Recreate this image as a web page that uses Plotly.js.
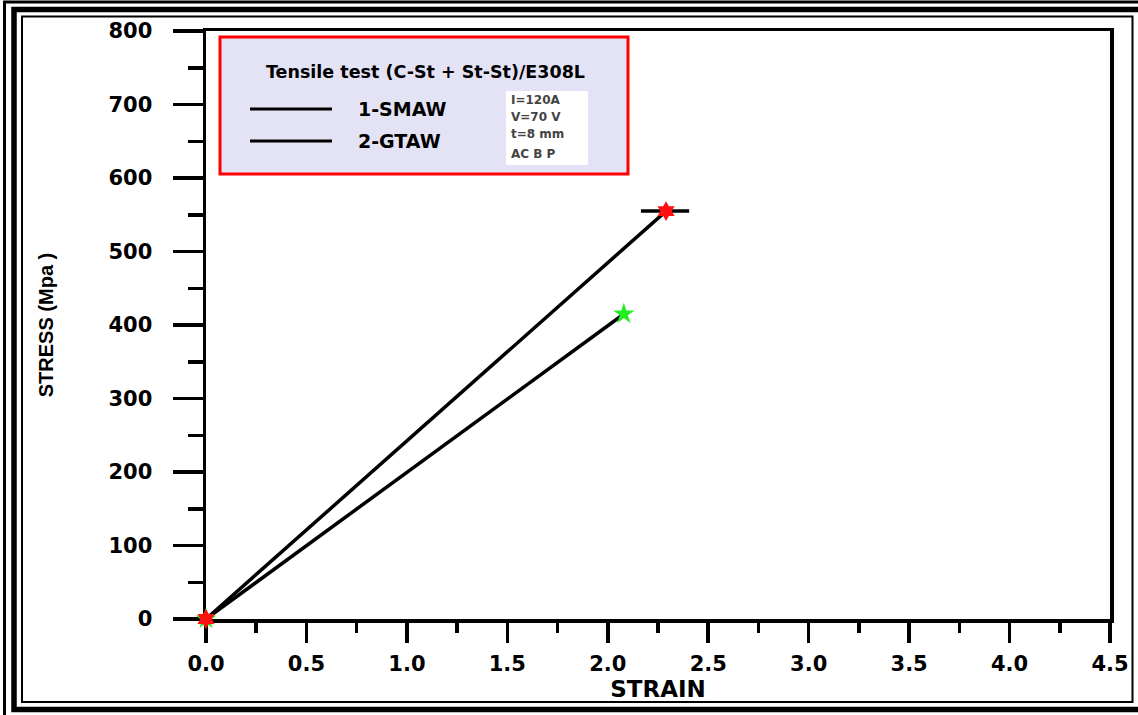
<!DOCTYPE html>
<html>
<head>
<meta charset="utf-8">
<script src="https://cdn.plot.ly/plotly-3.0.1.min.js"></script>
<style>
  html, body { margin: 0; padding: 0; background: #ffffff; }
  #chart { width: 1138px; height: 715px; }
</style>
</head>
<body>
<div id="chart"></div>
<script>
// ---- data ----
const seriesNames = ['1-SMAW', '2-GTAW'];
const smawStrain = [0, 2.29];
const smawStress = [0, 555];
const gtawStrain = [0, 2.08];
const gtawStress = [0, 415];
const smawEndMarkStrain = [2.165, 2.405];
const smawEndMarkStress = [555, 555];
const legendTitle = 'Tensile test (C-St + St-St)/E308L';
const weldParams = ['I=120A', 'V=70 V', 't=8 mm', 'AC B P'];
const xTickVals = [0, 0.5, 1.0, 1.5, 2.0, 2.5, 3.0, 3.5, 4.0, 4.5];
const yTickVals = [0, 100, 200, 300, 400, 500, 600, 700, 800];
const xTitle = 'STRAIN';
const yTitle = 'STRESS (Mpa )';

// ---- layout helpers (pixel -> paper) ----
const W = 1138, H = 715;
const M = { l: 206, r: 28, t: 31, b: 96 };
const PW = W - M.l - M.r, PH = H - M.t - M.b;
const px = v => (v - M.l) / PW;
const py = v => (H - M.b - v) / PH;

const tickFont = { family: 'DejaVu Sans', size: 21, color: '#000', weight: 700 };

const traces = [
  { x: gtawStrain, y: gtawStress, mode: 'lines+markers', name: seriesNames[1],
    line: { color: '#000', width: 3.5 }, cliponaxis: false,
    marker: { symbol: 'star', size: 16, color: '#22ee22', line: { width: 0 } },
    showlegend: false },
  { x: smawEndMarkStrain, y: smawEndMarkStress, mode: 'lines', name: 'end',
    line: { color: '#000', width: 3.5 }, showlegend: false },
  { x: smawStrain, y: smawStress, mode: 'lines+markers', name: seriesNames[0],
    line: { color: '#000', width: 3.5 }, cliponaxis: false,
    marker: { symbol: 'hexagram', size: 15, color: '#ff1010', line: { width: 0 } },
    showlegend: false }
];

const shapes = [
  // page frame (triple border)
  { type: 'rect', xref: 'paper', yref: 'paper', x0: px(4.5), x1: px(1160), y0: py(2), y1: py(730),
    line: { color: '#000', width: 3 }, layer: 'above' },
  { type: 'rect', xref: 'paper', yref: 'paper', x0: px(14), x1: px(1150), y0: py(9.5), y1: py(709.5),
    line: { color: '#000', width: 5.5 }, layer: 'above' },
  { type: 'rect', xref: 'paper', yref: 'paper', x0: px(22), x1: px(1132.5), y0: py(16.5), y1: py(702),
    line: { color: '#000', width: 2 }, layer: 'above' },
  // legend box
  { type: 'rect', xref: 'paper', yref: 'paper', x0: px(220), x1: px(628), y0: py(37), y1: py(174),
    line: { color: '#ff0000', width: 3 }, fillcolor: '#e3e3f5', layer: 'above' },
  // parameter box
  { type: 'rect', xref: 'paper', yref: 'paper', x0: px(506), x1: px(588), y0: py(91), y1: py(165),
    line: { width: 0 }, fillcolor: '#ffffff', layer: 'above' },
  // legend line samples
  { type: 'line', xref: 'paper', yref: 'paper', x0: px(250), x1: px(332), y0: py(109), y1: py(109),
    line: { color: '#000', width: 3 }, layer: 'above' },
  { type: 'line', xref: 'paper', yref: 'paper', x0: px(250), x1: px(332), y0: py(141), y1: py(141),
    line: { color: '#000', width: 3 }, layer: 'above' }
];

const paramY = [100, 117, 134, 154];
const annotations = [
  { xref: 'paper', yref: 'paper', x: px(425), y: py(72), text: legendTitle, showarrow: false,
    xanchor: 'center', yanchor: 'middle',
    font: { family: 'DejaVu Sans', size: 17.5, color: '#000', weight: 700 } },
  { xref: 'paper', yref: 'paper', x: px(356), y: py(109), text: seriesNames[0], showarrow: false,
    xanchor: 'left', yanchor: 'middle',
    font: { family: 'DejaVu Sans', size: 19, color: '#000', weight: 700 } },
  { xref: 'paper', yref: 'paper', x: px(356), y: py(141), text: seriesNames[1], showarrow: false,
    xanchor: 'left', yanchor: 'middle',
    font: { family: 'DejaVu Sans', size: 19, color: '#000', weight: 700 } }
].concat(weldParams.map((t, i) => ({
  xref: 'paper', yref: 'paper', x: px(509), y: py(paramY[i]), text: t, showarrow: false,
  xanchor: 'left', yanchor: 'middle',
  font: { family: 'DejaVu Sans', size: 12, color: '#444', weight: 700 }
})));

const layout = {
  width: W, height: H,
  margin: M,
  paper_bgcolor: '#ffffff', plot_bgcolor: '#ffffff',
  showlegend: false,
  xaxis: {
    range: [0, 4.5], tickvals: xTickVals, tickformat: '.1f', layer: 'below traces',
    ticks: 'outside', ticklen: 20, tickwidth: 3.5, tickcolor: '#000',
    minor: { dtick: 0.25, ticks: 'outside', ticklen: 10, tickwidth: 3.5, tickcolor: '#000', showgrid: false },
    showline: true, linecolor: '#000', linewidth: 3.5, mirror: true,
    showgrid: false, zeroline: false,
    tickfont: tickFont, ticklabelstandoff: 3,
    title: { text: xTitle, standoff: 4,
      font: { family: 'DejaVu Sans', size: 23, color: '#000', weight: 700 } }
  },
  yaxis: {
    range: [0, 800], tickvals: yTickVals, layer: 'below traces',
    ticks: 'outside', ticklen: 30, tickwidth: 3.5, tickcolor: '#000',
    minor: { dtick: 50, ticks: 'outside', ticklen: 15, tickwidth: 3.5, tickcolor: '#000', showgrid: false },
    showline: true, linecolor: '#000', linewidth: 3.5, mirror: true,
    showgrid: false, zeroline: false,
    tickfont: tickFont, ticklabelstandoff: 16,
    title: { text: yTitle, standoff: 50,
      font: { family: 'Liberation Sans, Arial, sans-serif', size: 20, color: '#000', weight: 700 } }
  },
  shapes: shapes,
  annotations: annotations
};

Plotly.newPlot('chart', traces, layout, { displayModeBar: false, staticPlot: true });
</script>
</body>
</html>
